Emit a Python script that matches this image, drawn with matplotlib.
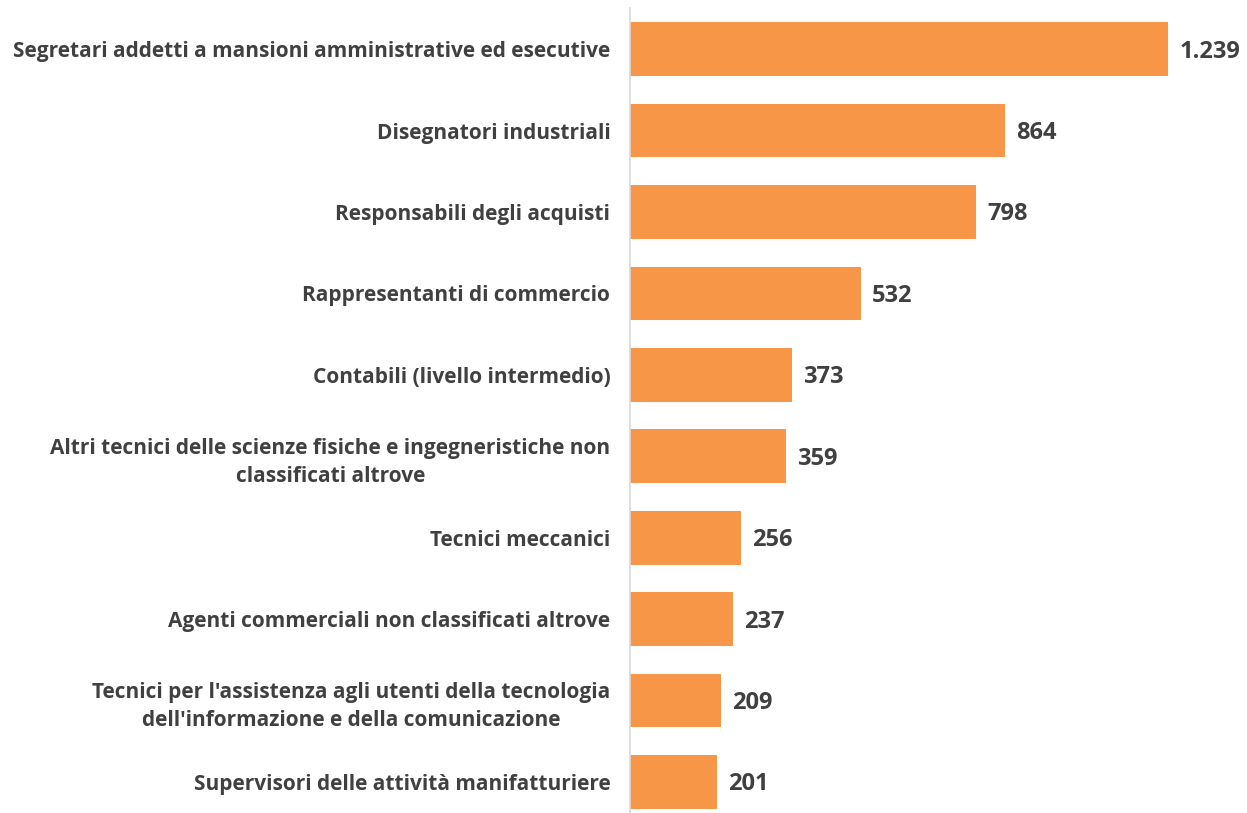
import matplotlib.pyplot as plt

# professioni e numero di richieste
categories = [
    "Segretari addetti a mansioni amministrative ed esecutive",
    "Disegnatori industriali",
    "Responsabili degli acquisti",
    "Rappresentanti di commercio",
    "Contabili (livello intermedio)",
    "Altri tecnici delle scienze fisiche e ingegneristiche non\nclassificati altrove",
    "Tecnici meccanici",
    "Agenti commerciali non classificati altrove",
    "Tecnici per l'assistenza agli utenti della tecnologia\ndell'informazione e della comunicazione",
    "Supervisori delle attività manifatturiere",
]
values = [1239, 864, 798, 532, 373, 359, 256, 237, 209, 201]
value_labels = ["1.239", "864", "798", "532", "373", "359", "256", "237", "209", "201"]

bar_color = "#F79646"
text_color = "#404040"

plt.rcParams['font.family'] = ['Open Sans', 'DejaVu Sans']

fig = plt.figure(figsize=(12.47, 8.13), dpi=100)
ax = fig.add_axes([0.505, 0.0, 0.495, 0.99])

pos = list(range(len(values)))
ax.barh(pos, values, height=0.66, color=bar_color)

for p, v, lab in zip(pos, values, value_labels):
    ax.text(v + 26, p + 0.03, lab, va='center', ha='left', fontsize=17,
            fontweight='bold', color=text_color)

ax.set_yticks(pos)
ax.set_yticklabels(categories, fontsize=15, fontweight='bold',
                   color=text_color, multialignment='center',
                   linespacing=1.42)
ax.tick_params(axis='y', length=0, pad=14)
ax.set_xticks([])

ax.set_xlim(0, 1421)
ax.set_ylim(9.38, -0.504)

for s in ['top', 'right', 'bottom']:
    ax.spines[s].set_visible(False)
ax.spines['left'].set_color('#D9D9D9')
ax.spines['left'].set_linewidth(1.2)

fig.savefig("out.png", dpi=100)
